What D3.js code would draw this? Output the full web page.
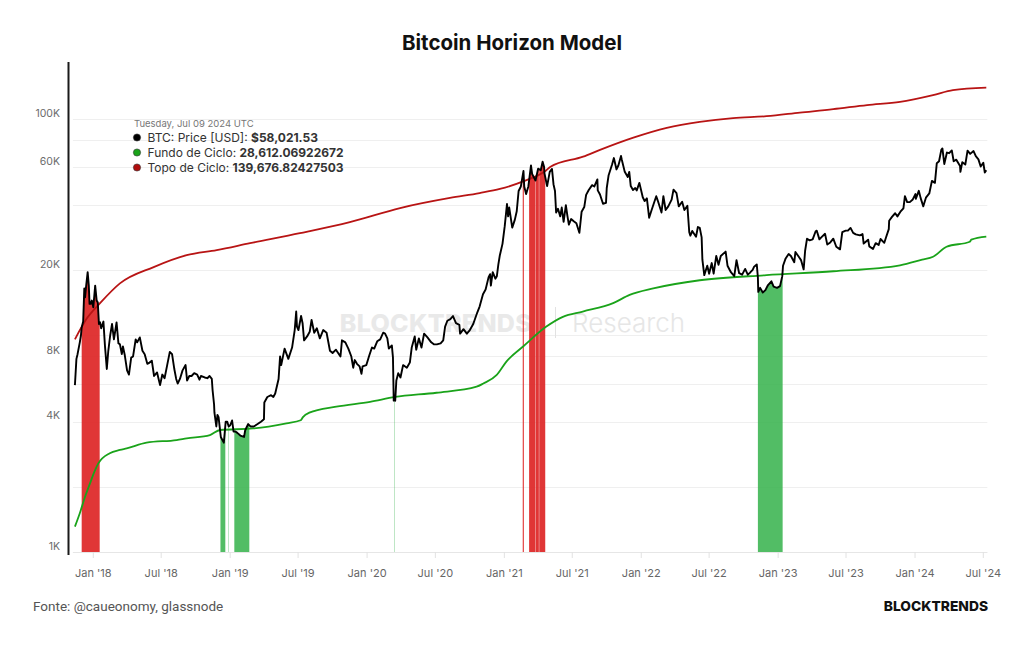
<!DOCTYPE html>
<html><head><meta charset="utf-8">
<script src="https://cdn.jsdelivr.net/npm/d3@7"></script>
<style>body{margin:0;background:#fff}svg{display:block}</style>
</head><body><svg id="c" width="1024" height="645"></svg>
<script>
const btcPrice = [
["2017-11-13",5900],["2017-11-17",7800],["2017-11-20",8200],["2017-11-26",9300],["2017-11-29",10000],["2017-12-01",10900],["2017-12-05",11600],["2017-12-08",16500],["2017-12-10",15000],["2017-12-13",17000],["2017-12-17",19600],["2017-12-20",17000],["2017-12-22",14000],["2017-12-25",14000],["2017-12-28",14500],
["2018-01-01",13500],["2018-01-06",17000],["2018-01-10",14500],["2018-01-13",14200],["2018-01-16",11300],["2018-01-19",11500],["2018-01-22",10800],["2018-01-28",11600],["2018-02-01",9000],["2018-02-06",7000],["2018-02-10",8500],["2018-02-15",10000],["2018-02-20",11300],["2018-02-25",9600],["2018-03-04",11500],["2018-03-09",9200],["2018-03-13",9100],["2018-03-18",8200],["2018-03-21",8900],["2018-03-26",8100],["2018-04-01",6900],["2018-04-06",6600],["2018-04-12",7900],["2018-04-17",8000],["2018-04-24",9600],["2018-04-28",9300],["2018-05-05",9800],["2018-05-12",8500],["2018-05-18",8200],["2018-05-25",7400],["2018-05-31",7500],["2018-06-06",7650],["2018-06-12",6500],["2018-06-20",6750],["2018-06-28",5900],["2018-07-04",6600],["2018-07-10",6350],["2018-07-17",7300],["2018-07-24",8400],["2018-07-30",8200],["2018-08-05",7000],["2018-08-10",6300],["2018-08-14",6000],["2018-08-20",6300],["2018-08-27",6900],["2018-09-04",7300],["2018-09-08",6200],["2018-09-14",6500],["2018-09-20",6500],["2018-09-27",6700],["2018-10-05",6600],["2018-10-11",6250],["2018-10-15",6500],["2018-10-25",6400],["2018-11-01",6350],["2018-11-07",6500],["2018-11-13",6300],["2018-11-15",5600],["2018-11-19",4800],["2018-11-20",4400],["2018-11-25",3800],["2018-11-28",4300],["2018-12-01",4200],["2018-12-07",3400],["2018-12-15",3200],["2018-12-20",4000],["2018-12-24",4000],["2018-12-28",3800],
["2019-01-01",3850],["2019-01-06",4050],["2019-01-10",3600],["2019-01-15",3600],["2019-01-20",3550],["2019-01-28",3450],["2019-02-07",3400],["2019-02-10",3650],["2019-02-18",3900],["2019-02-24",3800],["2019-03-05",3800],["2019-03-15",3900],["2019-03-24",4000],["2019-04-01",4100],["2019-04-02",4900],["2019-04-10",5200],["2019-04-20",5300],["2019-04-26",5200],["2019-05-01",5400],["2019-05-10",6300],["2019-05-14",8000],["2019-05-17",7300],["2019-05-26",8700],["2019-06-05",7800],["2019-06-15",8800],["2019-06-22",10600],["2019-06-26",12900],["2019-06-28",11000],["2019-07-02",10600],["2019-07-09",12300],["2019-07-13",11400],["2019-07-17",9500],["2019-07-25",9900],["2019-08-01",10400],["2019-08-06",11800],["2019-08-13",10300],["2019-08-20",10800],["2019-08-28",9700],["2019-09-06",10600],["2019-09-15",10300],["2019-09-24",8500],["2019-10-01",8300],["2019-10-10",8600],["2019-10-22",8000],["2019-10-26",9500],["2019-11-04",9300],["2019-11-12",8700],["2019-11-20",8000],["2019-11-25",7100],["2019-11-29",7700],["2019-12-05",7400],["2019-12-12",7200],["2019-12-17",6650],["2019-12-20",7200],["2019-12-30",7300],
["2020-01-07",8100],["2020-01-14",8800],["2020-01-20",8700],["2020-01-28",9400],["2020-02-05",9600],["2020-02-13",10300],["2020-02-18",10200],["2020-02-24",9700],["2020-02-28",8700],["2020-03-07",9000],["2020-03-10",7900],["2020-03-12",5000],["2020-03-13",5100],["2020-03-16",5000],["2020-03-19",6200],["2020-03-24",6700],["2020-03-30",6400],["2020-04-06",7300],["2020-04-16",7100],["2020-04-24",7500],["2020-04-29",8800],["2020-05-07",9900],["2020-05-11",8600],["2020-05-18",9700],["2020-05-25",8800],["2020-06-01",10200],["2020-06-10",9800],["2020-06-20",9300],["2020-06-27",9100],["2020-07-05",9100],["2020-07-15",9200],["2020-07-22",9500],["2020-07-27",11000],["2020-08-02",11700],["2020-08-10",11900],["2020-08-17",12300],["2020-08-25",11400],["2020-09-03",11200],["2020-09-05",10200],["2020-09-14",10700],["2020-09-23",10200],["2020-10-01",10600],["2020-10-10",11300],["2020-10-21",12800],["2020-10-27",13600],["2020-11-05",15500],["2020-11-12",16300],["2020-11-20",18600],["2020-11-24",19200],["2020-11-26",17000],["2020-12-01",19600],["2020-12-08",18300],["2020-12-12",18800],["2020-12-16",21300],["2020-12-20",23500],["2020-12-27",26500],
["2021-01-02",32000],["2021-01-08",40500],["2021-01-11",35500],["2021-01-14",39000],["2021-01-22",31500],["2021-01-29",34300],["2021-02-03",37500],["2021-02-08",46500],["2021-02-14",48800],["2021-02-21",57500],["2021-02-23",48800],["2021-02-28",45000],["2021-03-06",48800],["2021-03-13",61000],["2021-03-16",55800],["2021-03-25",52000],["2021-04-01",59000],["2021-04-08",58000],["2021-04-13",63500],["2021-04-17",60000],["2021-04-18",56000],["2021-04-25",49000],["2021-05-02",57000],["2021-05-08",58800],["2021-05-12",50000],["2021-05-16",46500],["2021-05-19",37000],["2021-05-24",38500],["2021-05-30",35500],["2021-06-03",39000],["2021-06-08",33500],["2021-06-14",40000],["2021-06-18",35800],["2021-06-22",32500],["2021-06-28",34500],["2021-07-05",33700],["2021-07-12",33000],["2021-07-20",29800],["2021-07-26",37300],["2021-08-02",39200],["2021-08-07",44600],["2021-08-14",47000],["2021-08-23",49500],["2021-08-29",48800],["2021-09-06",52600],["2021-09-07",46800],["2021-09-13",44800],["2021-09-21",40600],["2021-09-29",41000],["2021-10-01",48000],["2021-10-06",55000],["2021-10-15",61500],["2021-10-20",66000],["2021-10-27",58500],["2021-11-01",61000],["2021-11-08",67500],["2021-11-10",65000],["2021-11-18",57000],["2021-11-26",54000],["2021-11-30",57000],["2021-12-04",49000],["2021-12-10",47000],["2021-12-16",48000],["2021-12-20",46800],["2021-12-27",50700],
["2022-01-05",43500],["2022-01-10",41800],["2022-01-16",43000],["2022-01-22",35000],["2022-01-28",37700],["2022-02-05",41500],["2022-02-10",44000],["2022-02-14",42000],["2022-02-24",37000],["2022-03-01",44000],["2022-03-07",38000],["2022-03-14",39500],["2022-03-23",42400],["2022-03-28",47200],["2022-04-05",45500],["2022-04-11",39500],["2022-04-20",41500],["2022-04-26",38000],["2022-05-04",39700],["2022-05-09",30000],["2022-05-12",28900],["2022-05-17",30400],["2022-05-27",28600],["2022-06-01",31700],["2022-06-06",31400],["2022-06-11",28400],["2022-06-13",22400],["2022-06-18",19000],["2022-06-26",21000],["2022-07-01",19300],["2022-07-08",21600],["2022-07-13",19300],["2022-07-20",23300],["2022-07-26",21200],["2022-08-01",23300],["2022-08-14",24400],["2022-08-19",21000],["2022-08-28",19600],["2022-09-06",18800],["2022-09-12",22300],["2022-09-19",19400],["2022-09-27",19100],["2022-10-05",20300],["2022-10-12",19100],["2022-10-18",19500],["2022-10-25",20100],["2022-10-29",20800],["2022-11-05",21300],["2022-11-08",18500],["2022-11-09",15900],["2022-11-14",16600],["2022-11-21",15800],["2022-11-28",16200],["2022-12-05",17100],["2022-12-14",17800],["2022-12-20",16800],["2022-12-29",16600],
["2023-01-06",16900],["2023-01-12",18800],["2023-01-14",21000],["2023-01-21",22700],["2023-01-29",23800],["2023-02-04",23300],["2023-02-13",21800],["2023-02-16",24300],["2023-02-25",23100],["2023-03-03",22300],["2023-03-10",20200],["2023-03-14",24700],["2023-03-19",28000],["2023-03-26",27500],["2023-04-03",27800],["2023-04-11",30300],["2023-04-14",30500],["2023-04-21",27800],["2023-04-26",28400],["2023-05-06",29500],["2023-05-12",26300],["2023-05-20",26900],["2023-05-28",28000],["2023-06-05",25700],["2023-06-15",25000],["2023-06-21",30000],["2023-06-30",30500],["2023-07-06",30500],["2023-07-13",31400],["2023-07-20",29800],["2023-07-27",29300],["2023-08-07",29000],["2023-08-14",29400],["2023-08-17",26600],["2023-08-29",27700],["2023-09-01",25800],["2023-09-11",25100],["2023-09-18",26700],["2023-09-26",26200],["2023-10-01",27900],["2023-10-11",26800],["2023-10-16",28500],["2023-10-23",31000],["2023-10-24",33900],["2023-11-01",35400],["2023-11-09",36700],["2023-11-15",35500],["2023-11-23",37300],["2023-12-01",38700],["2023-12-05",44000],["2023-12-11",41300],["2023-12-18",41300],["2023-12-26",42500],
["2024-01-02",45000],["2024-01-03",42800],["2024-01-11",46600],["2024-01-16",43100],["2024-01-23",39500],["2024-01-30",43300],["2024-02-08",45300],["2024-02-15",51800],["2024-02-23",50700],["2024-02-28",62500],["2024-03-05",63800],["2024-03-11",72000],["2024-03-14",73100],["2024-03-19",62000],["2024-03-26",70000],["2024-04-01",69500],["2024-04-08",71600],["2024-04-13",63800],["2024-04-20",64900],["2024-04-30",60700],["2024-05-01",57000],["2024-05-06",63200],["2024-05-14",61600],["2024-05-20",71400],["2024-05-27",69000],["2024-06-05",71100],["2024-06-11",67300],["2024-06-18",65100],["2024-06-24",60300],["2024-07-01",62800],["2024-07-05",56600],["2024-07-09",58021.53]
];
const fundoCiclo = [
["2017-11-13",1310],["2017-11-26",1510],["2017-12-10",1800],["2017-12-23",2070],["2018-01-04",2350],["2018-01-14",2560],["2018-02-14",2860],["2018-03-13",2960],["2018-03-31",3010],["2018-05-23",3200],["2018-08-11",3290],["2018-09-07",3350],["2018-11-08",3470],["2018-12-05",3660],["2019-03-03",3720],["2019-05-31",3930],["2019-07-08",4060],["2019-07-14",4200],["2019-07-31",4400],["2019-10-11",4690],["2020-01-09",4940],["2020-03-15",5200],["2020-07-04",5440],["2020-10-19",5800],["2020-11-06",6000],["2020-12-11",6560],["2021-01-07",7600],["2021-02-20",8900],["2021-04-23",11000],["2021-06-06",12200],["2021-07-29",12900],["2021-10-18",14100],["2021-12-01",15400],["2022-02-02",16500],["2022-06-06",18000],["2022-12-01",19000],["2023-05-28",19800],["2023-11-22",21100],["2024-01-20",22400],["2024-02-18",23100],["2024-03-25",25700],["2024-05-26",27100],["2024-05-30",27700],["2024-07-09",28612.07]
];
const topoCiclo = [
["2017-11-13",9600],["2017-12-15",12000],["2018-01-19",14100],["2018-03-13",17400],["2018-06-11",20700],["2018-09-07",23500],["2018-11-26",24800],["2019-02-23",26700],["2019-07-06",29700],["2019-11-16",33400],["2020-03-29",38800],["2020-08-09",43200],["2020-10-27",45500],["2020-12-20",47500],["2021-02-20",51500],["2021-04-23",58000],["2021-05-03",60000],["2021-07-30",67000],["2021-09-13",72000],["2021-12-11",82000],["2022-03-10",91000],["2022-06-06",97000],["2022-09-03",101000],["2022-12-01",103000],["2023-02-28",107000],["2023-05-28",111000],["2023-08-26",116000],["2023-11-22",120000],["2024-02-18",129000],["2024-04-11",136000],["2024-07-09",139676.82]
];
const topSignals = [
["2017-12-01","2017-12-09"],["2017-12-10","2017-12-24"],["2017-12-25","2018-01-17"],
["2021-02-19","2021-02-21"],["2021-03-08","2021-03-11"],["2021-03-12","2021-03-24"],["2021-03-26","2021-04-02"],["2021-04-04","2021-04-19"]
];
const bottomSignals = [
["2018-12-06","2018-12-18"],["2018-12-27","2018-12-27"],["2019-01-12","2019-02-20"],
["2020-03-13","2020-03-13"],
["2022-11-08","2023-01-12"]
];
const yGridValues = [1000,2000,4000,6000,8000,10000,20000,40000,60000,80000,100000];
const yLabelValues = [1000,4000,8000,20000,60000,100000];
const xTickDates = ["2018-01-01","2018-07-01","2019-01-01","2019-07-01","2020-01-01","2020-07-01","2021-01-01","2021-07-01","2022-01-01","2022-07-01","2023-01-01","2023-07-01","2024-01-01","2024-07-01"];
const tooltipDate = "Tuesday, Jul 09 2024 UTC";
const tooltipLabels = ["BTC: Price [USD]: ","Fundo de Ciclo: ","Topo de Ciclo: "];
const tooltipValues = ["$58,021.53","28,612.06922672","139,676.82427503"];
const tooltipColors = ["#000000","#1aa31a","#b00d0d"];

const parse = d3.utcParse("%Y-%m-%d");
const toPts = a => a.map(d => ({date: parse(d[0]), v: d[1]}));
const price = toPts(btcPrice), fundo = toPts(fundoCiclo), topo = toPts(topoCiclo);

const svg = d3.select("#c");
const FONT = "Inter, 'Noto Sans', sans-serif";
const x = d3.scaleUtc().domain([parse("2018-01-01"), parse("2024-07-01")]).range([93.3, 983.3]);
const y = d3.scaleLog().domain([1000, 100000]).range([552, 119]);
const x0 = x(price[0].date) - 2, x1 = x(price[price.length-1].date) + 1;
const plotBottom = 552, plotTop = 62;

// title
svg.append("text").attr("x",512).attr("y",50).attr("text-anchor","middle")
  .attr("font-family",FONT).attr("font-weight",700).attr("font-size",20.5).attr("fill","#111").text("Bitcoin Horizon Model");

// gridlines
svg.append("g").selectAll("line").data(yGridValues).join("line")
  .attr("x1",x0).attr("x2",x1).attr("y1",d=>Math.round(y(d))+0.5).attr("y2",d=>Math.round(y(d))+0.5)
  .attr("stroke","#efefef").attr("stroke-width",1);

// watermark
const wm = svg.append("g").attr("font-family",FONT);
wm.append("text").attr("x",532).attr("y",332).attr("text-anchor","end").attr("font-size",25).attr("font-weight",800)
  .attr("fill","#e9e9e9").attr("letter-spacing",0.3).text("BLOCKTRENDS");
wm.append("line").attr("x1",555.5).attr("x2",555.5).attr("y1",307).attr("y2",338).attr("stroke","#e2e2e2").attr("stroke-width",1);
wm.append("text").attr("x",572).attr("y",332).attr("font-size",26).attr("font-weight",300)
  .attr("fill","#e6e6e6").text("Research");

// x axis baseline and ticks
svg.append("line").attr("x1",x0).attr("x2",x1).attr("y1",plotBottom+0.5).attr("y2",plotBottom+0.5).attr("stroke","#e6e6e6");
const xt = svg.append("g").selectAll("g").data(xTickDates.map(parse)).join("g");
xt.append("line").attr("x1",d=>x(d)).attr("x2",d=>x(d)).attr("y1",plotBottom).attr("y2",plotBottom+6).attr("stroke","#e2e2e2");
xt.append("text").attr("x",d=>x(d)).attr("y",577).attr("text-anchor","middle").attr("font-family",FONT)
  .attr("font-size",11).attr("fill","#666").text(d3.utcFormat("%b '%y"));

// y labels
svg.append("g").selectAll("text").data(yLabelValues).join("text")
  .attr("x",60).attr("y",d=>y(d)-6).attr("dy","0.35em").attr("text-anchor","end")
  .attr("font-family",FONT).attr("font-size",10.5).attr("fill","#6b6b6b").text(d=>d3.format("d")(d/1000)+"K");

// signal bands
const defs = svg.append("defs");
const area = d3.area().x(d=>x(d.date)).y0(plotBottom).y1(d=>y(d.v));
function band(ranges, color, id, op){
  const cp = defs.append("clipPath").attr("id",id);
  ranges.forEach(r=>{
    const a = parse(r[0]), b = d3.utcDay.offset(parse(r[1]),1);
    cp.append("rect").attr("x",x(a)).attr("width",x(b)-x(a)).attr("y",0).attr("height",plotBottom);
  });
  svg.append("path").datum(price).attr("d",area).attr("fill",color).attr("fill-opacity",op).attr("clip-path",`url(#${id})`);
}
band(topSignals,"#dd2020","clipTop",0.9);
band(bottomSignals,"#34b14a","clipBottom",0.85);

// lines
const smooth = d3.line().x(d=>x(d.date)).y(d=>y(d.v)).curve(d3.curveMonotoneX);
const line = d3.line().x(d=>x(d.date)).y(d=>y(d.v));
svg.append("path").datum(fundo).attr("d",smooth).attr("fill","none").attr("stroke","#1aa31a").attr("stroke-width",1.8);
svg.append("path").datum(topo).attr("d",smooth).attr("fill","none").attr("stroke","#b81414").attr("stroke-width",1.8);
svg.append("path").datum(price).attr("d",line).attr("fill","none").attr("stroke","#000").attr("stroke-width",1.9).attr("stroke-linejoin","round");

// y axis line
svg.append("line").attr("x1",68.5).attr("x2",68.5).attr("y1",plotTop).attr("y2",plotBottom+3).attr("stroke","#1a1a1a").attr("stroke-width",2);

// tooltip
const tt = svg.append("g").attr("font-family",FONT);
tt.append("text").attr("x",134).attr("y",124).attr("dy","0.35em").attr("font-size",9.5).attr("fill","#777").text(tooltipDate);
tooltipLabels.forEach((lab,i)=>{
  const yy = 137.5 + i*15;
  tt.append("circle").attr("cx",137).attr("cy",yy).attr("r",3.6).attr("fill",tooltipColors[i]).attr("stroke","#333").attr("stroke-width",0.6);
  const t = tt.append("text").attr("x",147.5).attr("y",yy).attr("dy","0.35em").attr("font-size",12).attr("fill","#333");
  t.append("tspan").text(lab);
  t.append("tspan").attr("font-weight",700).text(tooltipValues[i]);
});

// footer
svg.append("text").attr("x",33).attr("y",611).attr("font-family","Roboto, sans-serif").attr("font-size",13.5).attr("fill","#555").text("Fonte: @caueonomy, glassnode");
svg.append("text").attr("x",988).attr("y",611).attr("text-anchor","end").attr("font-family",FONT).attr("font-weight",800)
  .attr("font-size",13.8).attr("fill","#111").text("BLOCKTRENDS");
</script></body></html>
